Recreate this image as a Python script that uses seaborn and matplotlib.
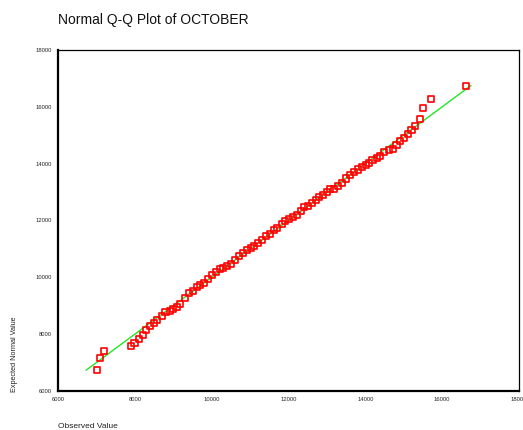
import matplotlib
matplotlib.use("Agg")
import matplotlib.pyplot as plt
import seaborn as sns
import pandas as pd

# Observed (sorted) values and their expected normal values
observed = [7007, 7093, 7190, 7900, 7996, 8108, 8205, 8291, 8403, 8491,
            8585, 8707, 8803, 8908, 9001, 9098, 9183, 9298, 9402, 9514,
            9618, 9696, 9800, 9905, 10001, 10105, 10217, 10303, 10407, 10503,
            10600, 10719, 10823, 10928, 11016, 11110, 11206, 11310, 11414, 11518,
            11615, 11708, 11823, 11909, 12013, 12117, 12213, 12325, 12411, 12508,
            12612, 12708, 12802, 12906, 13010, 13088, 13192, 13281, 13385, 13489,
            13601, 13705, 13817, 13913, 14017, 14103, 14186, 14304, 14390, 14494,
            14616, 14712, 14816, 14902, 15006, 15103, 15197, 15301, 15415, 15509,
            15717, 16613]
expected = [6728, 7161, 7408, 7573, 7700, 7840, 7981, 8136, 8298, 8382,
            8498, 8639, 8769, 8826, 8875, 8967, 9072, 9273, 9449, 9530,
            9649, 9720, 9801, 9931, 10071, 10177, 10293, 10328, 10388, 10480,
            10599, 10751, 10846, 10962, 11043, 11113, 11208, 11303, 11454, 11525,
            11655, 11747, 11866, 11982, 12042, 12134, 12204, 12324, 12464, 12521,
            12626, 12711, 12837, 12908, 13003, 13098, 13119, 13225, 13309, 13478,
            13612, 13700, 13795, 13893, 13953, 14034, 14129, 14189, 14280, 14403,
            14481, 14527, 14646, 14798, 14914, 15044, 15174, 15325, 15572, 15969,
            16286, 16744]
line_x = [6730, 16750]
line_y = [6730, 16750]
ticks = [6000, 8000, 10000, 12000, 14000, 16000, 18000]

sns.set_style("white")
plt.rcParams['font.family'] = ['Liberation Sans', 'DejaVu Sans']

df = pd.DataFrame({"Observed Value": observed, "Expected Normal Value": expected})
ldf = pd.DataFrame({"x": line_x, "y": line_y})

fig = plt.figure(figsize=(5.23, 4.30), dpi=100)
ax = fig.add_axes([58/523, 39/430, 461/523, 341/430])

sns.lineplot(data=ldf, x="x", y="y", ax=ax, color="#22e622", linewidth=1.0)
sns.scatterplot(data=df, x="Observed Value", y="Expected Normal Value", ax=ax,
                marker="s", s=21, facecolor="none", edgecolor="#ff0000",
                linewidth=1.2, zorder=3)

ax.set_xlim(6000, 18000)
ax.set_ylim(6000, 18000)
ax.set_xticks(ticks)
ax.set_yticks(ticks)
ax.set_xticklabels([str(t) for t in ticks])
ax.set_yticklabels([str(t) for t in ticks])
ax.tick_params(axis="both", which="major", labelsize=4.2, length=2.5, width=2,
               direction="inout", color="black", pad=3)
ax.set_xlabel("")
ax.set_ylabel("")

for side in ["left", "bottom"]:
    ax.spines[side].set_linewidth(1.6)
    ax.spines[side].set_color("black")
for side in ["top", "right"]:
    ax.spines[side].set_linewidth(0.9)
    ax.spines[side].set_color("black")
    ax.spines[side].set_visible(True)

fig.text(58/523, 1 - 20/430, "Normal Q-Q Plot of OCTOBER", fontsize=10,
         ha="left", va="center", color="#111111")
fig.text(58/523, 1 - 426/430, "Observed Value", fontsize=6,
         ha="left", va="center", color="#222222")
fig.text(14/523, 1 - 354/430, "Expected Normal Value", fontsize=5.2,
         ha="center", va="center", rotation=90, color="#222222")

fig.savefig("out.png", dpi=100)
